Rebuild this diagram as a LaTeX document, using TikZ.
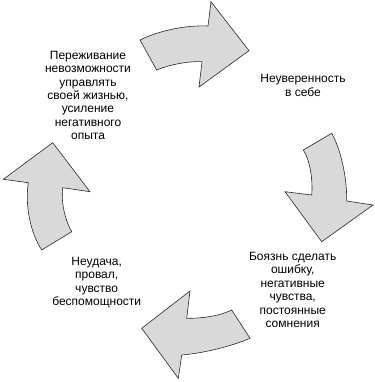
\documentclass[tikz,border=0pt]{standalone}
\usepackage{fontspec}
\setmainfont{Liberation Sans}
\definecolor{arrowfill}{RGB}{217,217,217}
\definecolor{arrowline}{RGB}{40,40,40}
\begin{document}
\begin{tikzpicture}[x=1pt,y=-1pt,
  cyclearrow/.style={fill=arrowfill,draw=arrowline,line width=0.6pt,line join=miter},
  label/.style={align=center,font=\fontsize{12}{13.4}\selectfont,inner sep=0pt}]
\useasboundingbox (0,0) rectangle (374,382);
% top arrow
\draw[cyclearrow] (140,40) -- (156.7,70) .. controls (168,65) and (188,61) .. (202,61.7)
  -- (199,87) -- (249,50.7) -- (211,1.7) -- (208,26)
  .. controls (185,25) and (158,31) .. (140,40) -- cycle;
% right arrow
\draw[cyclearrow] (303.3,150) -- (331.7,133.3) .. controls (340,148) and (347,175) .. (346.7,201)
  -- (373,205) -- (321.7,241.7) -- (285,191.7) -- (311.7,195)
  .. controls (313,180) and (310,160) .. (303.3,150) -- cycle;
% bottom arrow
\draw[cyclearrow] (231.7,310) -- (250,338.3) .. controls (232,346) and (205,353) .. (181.7,355)
  -- (178.3,378.3) -- (141.7,328.3) -- (190,291) -- (186.7,318.3)
  .. controls (205,318.5) and (222,315) .. (231.7,310) -- cycle;
% left arrow
\draw[cyclearrow] (71.7,231.7) -- (41.7,250) .. controls (30,232) and (25,205) .. (28.3,182.7)
  -- (3.3,179.3) -- (52.7,142.7) -- (90,191.7) -- (62.7,187.7)
  .. controls (61,200) and (64,218) .. (71.7,231.7) -- cycle;
% texts
\node[label] (t1) at (88,95.5) {Переживание\\невозможности\\управлять\\своей жизнью,\\усиление\\негативного\\опыта};
\node[label] (t2) at (303,85.5) {Неуверенность\\в себе};
\node[label] (t3) at (292.7,290) {Боязнь сделать\\ошибку,\\негативные\\чувства,\\постоянные\\сомнения};
\node[label] (t4) at (96.7,282.5) {Неудача,\\провал,\\чувство\\беспомощности};
\end{tikzpicture}
\end{document}
